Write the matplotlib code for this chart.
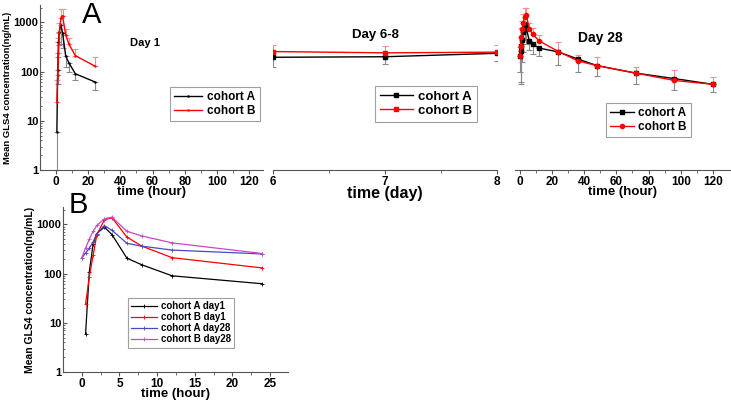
import matplotlib
matplotlib.use("Agg")
import matplotlib.pyplot as plt
import numpy as np
from matplotlib.ticker import FixedLocator, NullFormatter, LogLocator

plt.rcParams['font.family'] = ['Liberation Sans', 'DejaVu Sans']
plt.rcParams['font.weight'] = 'bold'

# ---- data ----
t_day1 = [0.5, 1, 1.5, 2, 3, 4, 6, 8, 12, 24]
a_day1 = [6, 110, 400, 650, 880, 620, 205, 150, 90, 62]
a_day1_sd = [5.5, 53, 200, 300, 510, 320, 80, 50, 24, 19]
b_day1 = [24, 87, 235, 620, 1230, 1370, 550, 360, 210, 130]
b_day1_sd = [44, 150, 235, 330, 620, 480, 190, 110, 80, 70]

t_day68 = [6, 7, 8]
a_day68 = [195, 200, 235]
a_day68_sd = [70, 60, 70]
b_day68 = [255, 240, 248]
b_day68_sd = [95, 90, 102]

t_day28 = [0, 0.5, 1, 1.5, 2, 3, 4, 6, 8, 12, 24, 36, 48, 72, 96, 120]
a_day28 = [210, 260, 330, 440, 650, 940, 760, 410, 360, 300, 250, 180, 132, 93, 72, 55]
a_day28_sd = [110, 200, 274, 285, 400, 500, 400, 140, 130, 95, 113, 80, 49, 37, 30, 17]
b_day28 = [210, 330, 500, 720, 950, 1300, 1400, 720, 580, 420, 255, 165, 132, 93, 66, 55]
b_day28_sd = [100, 150, 250, 350, 500, 650, 600, 250, 200, 140, 145, 55, 63, 29, 44, 24]

W, H = 731, 403
fig = plt.figure(figsize=(W / 100, H / 100), dpi=100)


def box(l, t, r, b):
    return [l / W, 1 - b / H, (r - l) / W, (b - t) / H]


def style_log(ax, show_y=True, ysize=8):
    ax.set_yscale('log')
    ax.set_ylim(1, 2250)
    for s in ('top', 'right'):
        ax.spines[s].set_visible(False)
    ax.spines['bottom'].set_color('#555555')
    ax.spines['left'].set_color('#555555')
    ax.tick_params(axis='x', direction='out', length=3, width=0.8, color='#555555', labelsize=8.5, pad=1)
    ax.tick_params(axis='x', which='minor', direction='out', length=2, color='#555555')
    if show_y:
        ax.yaxis.set_major_locator(FixedLocator([1, 10, 100, 1000]))
        ax.set_yticklabels(['1', '10', '100', '1000'])
        ax.yaxis.set_minor_locator(LogLocator(base=10, subs=np.arange(2, 10)))
        ax.yaxis.set_minor_formatter(NullFormatter())
        ax.tick_params(axis='y', direction='in', length=3, width=0.8, color='#555555', labelsize=ysize, pad=1)
        ax.tick_params(axis='y', which='minor', direction='in', length=1.5, color='#555555')
    else:
        ax.spines['left'].set_visible(False)
        ax.tick_params(axis='y', which='both', left=False, labelleft=False)


def err_pair(ax, t, a, asd, b, bsd, ma, mb, ms):
    z = np.zeros(len(a))
    ca = ax.errorbar(t, a, yerr=[asd, z], color='black', ecolor='#8a8a8a', elinewidth=0.8,
                     capsize=2, capthick=0.8, lw=1, marker=ma, ms=ms)
    cb = ax.errorbar(t, b, yerr=[z, bsd], color='red', ecolor='#f29090', elinewidth=0.8,
                     capsize=2, capthick=0.8, lw=1, marker=mb, ms=ms)
    return [ca[0], cb[0]]


def legend(ax, handles, labels, l, t, size, hl=3):
    leg = ax.legend(handles, labels, loc='upper left', bbox_to_anchor=(l / W, 1 - t / H),
                    bbox_transform=fig.transFigure, borderaxespad=0,
                    fontsize=size, frameon=True, fancybox=False, edgecolor='#888888',
                    handlelength=hl, borderpad=0.35, labelspacing=0.15, handletextpad=0.4)
    leg.get_frame().set_linewidth(0.8)


labels_A = ['cohort A', 'cohort B']

# ---- A: day 1 ----
ax1 = fig.add_axes(box(40, 5, 263, 170))
style_log(ax1)
h = err_pair(ax1, t_day1, a_day1, a_day1_sd, b_day1, b_day1_sd, '.', '.', 1.5)
ax1.set_xlim(-10, 128.7)
ax1.set_xticks(np.arange(0, 121, 20))
ax1.set_xticks(np.arange(10, 130, 20), minor=True)
ax1.set_xlabel('time (hour)', fontsize=9.5, fontweight='bold', labelpad=-1)
ax1.set_ylabel('Mean GLS4 concentration(ng/mL)', fontsize=6.8, fontweight='bold', labelpad=1)
legend(ax1, h, labels_A, 170, 87, 8.5, hl=2.4)

# ---- A: day 6-8 ----
ax2 = fig.add_axes(box(273, 5, 497, 170))
style_log(ax2, show_y=False)
h = err_pair(ax2, t_day68, a_day68, a_day68_sd, b_day68, b_day68_sd, 's', 's', 3)
ax2.set_xlim(6, 8)
ax2.set_xticks([6, 7, 8])
ax2.set_xticks([6.5, 7.5], minor=True)
ax2.set_xlabel('time (day)', fontsize=11.5, fontweight='bold', labelpad=-1)
legend(ax2, h, labels_A, 375, 86, 9.5, hl=2.5)

# ---- A: day 28 ----
ax3 = fig.add_axes(box(515, 5, 730, 170))
style_log(ax3, show_y=False)
h = err_pair(ax3, t_day28, a_day28, a_day28_sd, b_day28, b_day28_sd, 's', 'o', 3)
ax3.set_xlim(-3, 130.6)
ax3.set_xticks(np.arange(0, 121, 20))
ax3.set_xticks(np.arange(10, 130, 20), minor=True)
ax3.set_xlabel('time (hour)', fontsize=9.5, fontweight='bold', labelpad=-1)
legend(ax3, h, labels_A, 606, 103, 8.5, hl=2.0)

fig.text(92 / W, 1 - 15 / H, 'A', fontsize=21, fontweight='normal', ha='center', va='center')
fig.text(145 / W, 1 - 43 / H, 'Day 1', fontsize=8, ha='center', va='center')
fig.text(375 / W, 1 - 35 / H, 'Day 6-8', fontsize=9.5, ha='center', va='center')
fig.text(600 / W, 1 - 38 / H, 'Day 28', fontsize=10, ha='center', va='center')

# ---- B ----
axb = fig.add_axes(box(63, 207, 288, 372))
style_log(axb, ysize=8)
n = 11
kw = dict(lw=0.9, marker='+', ms=3, mew=0.6)
axb.plot(t_day1, a_day1, color='black', label='cohort A day1', **kw)
axb.plot(t_day1, b_day1, color='red', label='cohort B day1', **kw)
axb.plot(t_day28[:n], a_day28[:n], color='#4848c8', label='cohort A day28', **kw)
axb.plot(t_day28[:n], b_day28[:n], color='#c848c8', label='cohort B day28', **kw)
axb.set_xlim(-2.5, 27.4)
axb.set_xticks(np.arange(0, 26, 5))
axb.set_xticks(np.arange(2.5, 27, 5), minor=True)
axb.set_xlabel('time (hour)', fontsize=9.5, fontweight='bold', labelpad=-1)
axb.set_ylabel('Mean GLS4 concentration(ng/mL)', fontsize=7.5, fontweight='bold', labelpad=1)
leg = axb.legend(loc='upper left', bbox_to_anchor=(128 / W, 1 - 298 / H), bbox_transform=fig.transFigure,
                 borderaxespad=0, fontsize=7, frameon=True, fancybox=False, edgecolor='#888888',
                 handlelength=2.6, borderpad=0.35, labelspacing=0.1, handletextpad=0.4)
leg.get_frame().set_linewidth(0.8)
fig.text(78 / W, 1 - 205 / H, 'B', fontsize=21, fontweight='normal', ha='center', va='center')

fig.savefig('out.png', dpi=100)
